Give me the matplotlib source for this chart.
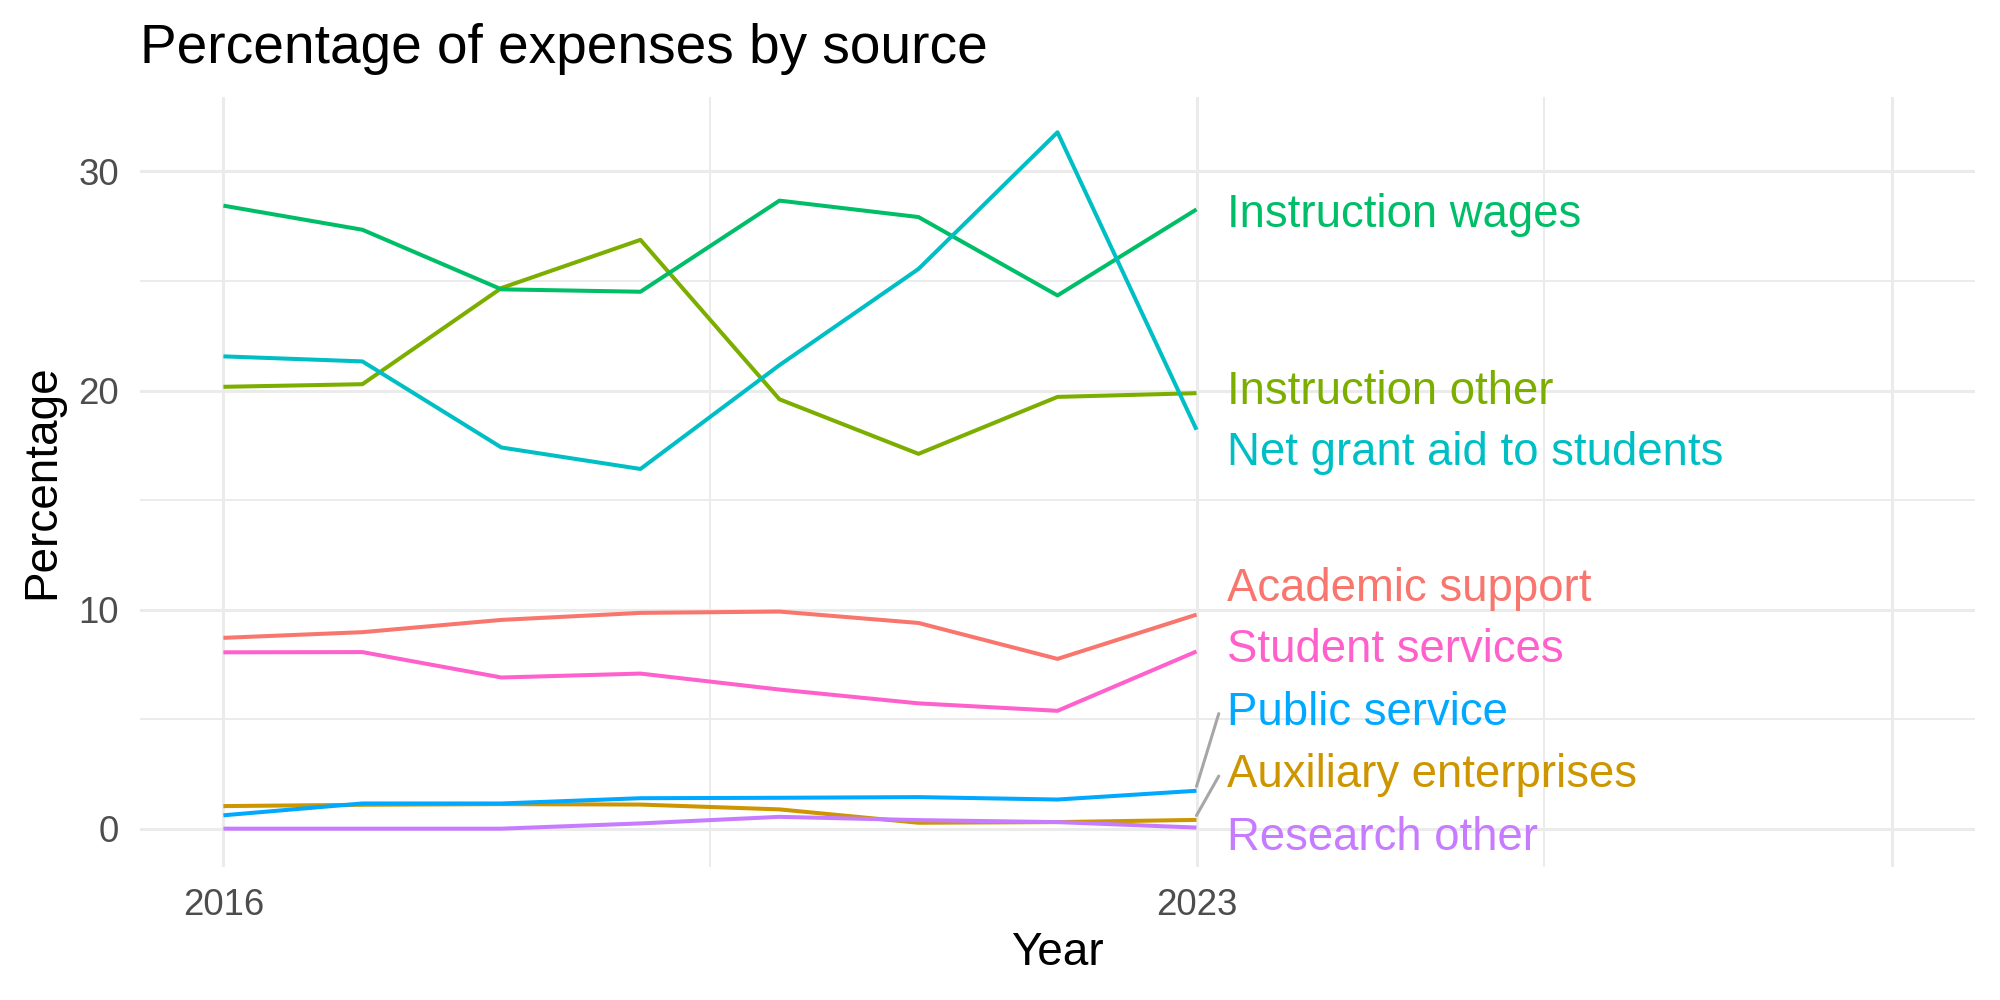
import matplotlib
matplotlib.use("Agg")
import matplotlib.pyplot as plt
from matplotlib.ticker import FixedLocator, FixedFormatter

plt.rcParams['font.family'] = ['Liberation Sans', 'DejaVu Sans']

years = [2016, 2017, 2018, 2019, 2020, 2021, 2022, 2023]

series = ["Academic support", "Auxiliary enterprises", "Instruction other",
          "Instruction wages", "Net grant aid to students", "Public service",
          "Research other", "Student services"]

academic_support = [8.71, 8.97, 9.53, 9.85, 9.91, 9.39, 7.75, 9.77]
auxiliary_enterprises = [1.03, 1.09, 1.12, 1.10, 0.88, 0.27, 0.30, 0.40]
instruction_other = [20.17, 20.29, 24.68, 26.88, 19.60, 17.11, 19.71, 19.88]
instruction_wages = [28.44, 27.34, 24.62, 24.51, 28.67, 27.92, 24.34, 28.27]
net_grant_aid = [21.56, 21.33, 17.40, 16.42, 21.16, 25.55, 31.79, 18.21]
public_service = [0.61, 1.15, 1.15, 1.39, 1.41, 1.44, 1.33, 1.73]
research_other = [0.0, 0.0, 0.0, 0.24, 0.54, 0.39, 0.30, 0.05]
student_services = [8.05, 8.06, 6.90, 7.08, 6.35, 5.72, 5.38, 8.09]

values = [academic_support, auxiliary_enterprises, instruction_other,
          instruction_wages, net_grant_aid, public_service,
          research_other, student_services]

colors = ["#F8766D", "#CD9600", "#7CAE00", "#00BE67",
          "#00BFC4", "#00A9FF", "#C77CFF", "#FF61CC"]

# repelled label y positions at the right end
label_y = [10.95, 2.45, 19.95, 28.0, 17.15, 5.3, -0.42, 8.15]
# which labels have a leader segment
has_segment = [False, True, False, False, False, True, False, False]
label_x = 2023.22

title = "Percentage of expenses by source"
x_label = "Year"
y_label = "Percentage"

fig = plt.figure(figsize=(10, 5), dpi=200)
ax = fig.add_axes([0.070, 0.133, 0.9175, 0.770])

ax.set_xlim(2015.4, 2028.6)
ax.set_ylim(-1.75, 33.4)

# grid
ax.xaxis.set_major_locator(FixedLocator([2016, 2023, 2028]))
ax.xaxis.set_major_formatter(FixedFormatter(["2016", "2023", ""]))
ax.xaxis.set_minor_locator(FixedLocator([2019.5, 2025.5]))
ax.yaxis.set_major_locator(FixedLocator([0, 10, 20, 30]))
ax.yaxis.set_minor_locator(FixedLocator([5, 15, 25]))
ax.grid(which='major', color='#EBEBEB', linewidth=1.1)
ax.grid(which='minor', color='#EBEBEB', linewidth=0.7)
ax.set_axisbelow(True)
for s in ax.spines.values():
    s.set_visible(False)
ax.tick_params(which='both', length=0)
ax.tick_params(axis='both', labelsize=13.2, labelcolor='#4D4D4D')
ax.tick_params(axis='x', pad=7.5)
ax.tick_params(axis='y', pad=7.5)

for name, vals, col, ly, seg in zip(series, values, colors, label_y, has_segment):
    ax.plot(years, vals, color=col, linewidth=1.45, solid_capstyle='butt', zorder=3)
    if seg:
        ax.plot([years[-1], label_x - 0.06], [vals[-1] + 0.2, ly - 0.05],
                color='#A6A6A6', linewidth=1.1, solid_capstyle='round', zorder=2)
    ax.text(label_x, ly, name, color=col, fontsize=16.4, va='center', ha='left', zorder=4)

ax.set_xlabel(x_label, fontsize=16.5, labelpad=3)
ax.set_ylabel(y_label, fontsize=16.5, labelpad=5.3)
fig.text(0.070, 0.937, title, fontsize=19.8, ha='left', va='baseline')

fig.savefig("out.png", dpi=200, facecolor='white')
